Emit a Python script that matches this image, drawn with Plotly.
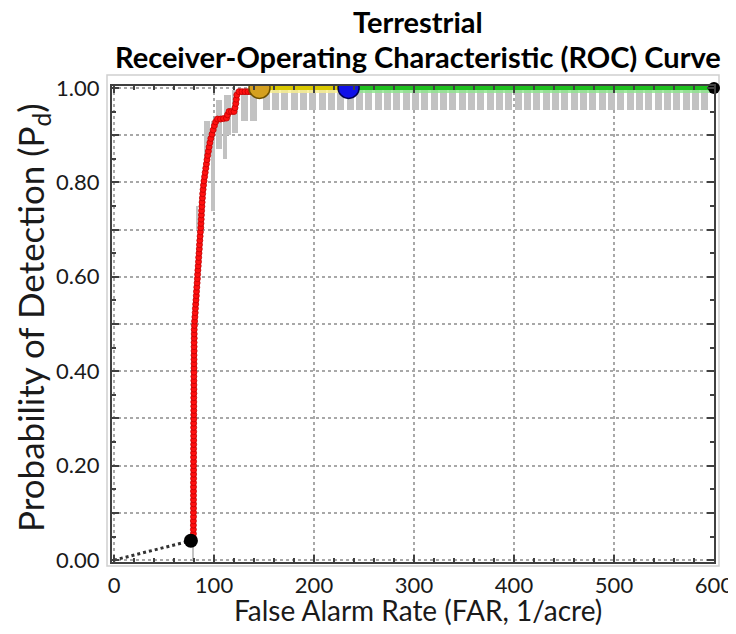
import plotly.graph_objects as go

# ---------------- data ----------------
roc_far = [
    79.4, 79.4, 79.4, 79.4, 79.4, 79.5, 79.5, 79.5, 79.5, 79.5,
    79.5, 79.5, 79.5, 79.5, 79.6, 79.6, 79.6, 79.6, 79.6, 79.6,
    79.6, 79.6, 79.7, 79.7, 79.7, 79.7, 79.7, 79.7, 79.8, 79.8,
    79.8, 79.8, 79.8, 79.8, 79.9, 79.9, 79.9, 79.9, 79.9, 80.0,
    80.0, 80.0, 80.0, 80.0, 80.1, 80.1, 80.1, 80.2, 80.2, 80.2,
    80.4, 80.6, 80.9, 81.2, 81.4, 81.7, 82.0, 82.3, 82.5, 82.8,
    83.1, 83.4, 83.6, 83.9, 84.2, 84.5, 84.7, 85.0, 85.3, 85.5,
    85.8, 86.1, 86.4,
    86.8, 87.0, 87.2, 87.4, 87.6, 87.9, 88.1, 88.4, 88.7, 89.1, 89.5, 90.0,
    90.6, 91.2, 91.8, 92.4, 93.0, 93.7, 94.4, 95.1, 95.9, 96.8,
    98.0, 99.2, 100.4, 101.6,
    103.5, 106.5, 109.5, 112.5,
    113.5, 115.0, 117.5, 120.0,
    121.0, 121.8, 122.3, 122.8,
    125.0, 128.0, 131.0, 134.0, 137.0, 140.0, 143.0,
]
roc_pd = [
    0.047, 0.056, 0.065, 0.074, 0.083, 0.092, 0.101, 0.110, 0.119, 0.128,
    0.137, 0.146, 0.155, 0.164, 0.173, 0.182, 0.191, 0.200, 0.209, 0.218,
    0.227, 0.236, 0.245, 0.254, 0.263, 0.272, 0.281, 0.290, 0.299, 0.308,
    0.317, 0.326, 0.335, 0.344, 0.353, 0.362, 0.371, 0.380, 0.389, 0.398,
    0.407, 0.416, 0.425, 0.434, 0.443, 0.452, 0.461, 0.470, 0.479, 0.488,
    0.497, 0.506, 0.515, 0.524, 0.533, 0.542, 0.551, 0.560, 0.569, 0.578,
    0.587, 0.596, 0.605, 0.614, 0.623, 0.632, 0.641, 0.650, 0.659, 0.668,
    0.677, 0.686, 0.695,
    0.704, 0.713, 0.722, 0.731, 0.740, 0.749, 0.758, 0.767, 0.776, 0.785, 0.794, 0.803,
    0.812, 0.821, 0.830, 0.839, 0.848, 0.857, 0.866, 0.875, 0.884, 0.893,
    0.902, 0.911, 0.920, 0.928,
    0.934, 0.934, 0.935, 0.936,
    0.943, 0.950, 0.950, 0.950,
    0.958, 0.967, 0.976, 0.985,
    0.992, 0.992, 0.992, 0.992, 0.992, 0.996, 1.000,
]

start_far = [0.0, 76.9]
start_pd = [0.0, 0.041]

yellow_far = [145.5, 234.6]
yellow_pd = [1.0, 1.0]
green_far = [234.6, 600.0]
green_pd = [1.0, 1.0]

gold_far, gold_pd = [145.5], [1.0]
blue_far, blue_pd = [234.6], [1.0]
end_far, end_pd = [600.0], [1.0]

# confidence bars (grey)
ci_far = [79.0, 83.0, 93.0, 99.0, 105.0, 110.5, 113.5, 121.0, 130.5, 139.5,
          152.0, 161.0, 170.5, 180.0, 189.0, 198.5, 208.0, 217.0, 226.5, 236.0,
          245.0, 254.5, 264.0, 273.0, 282.5, 292.0, 301.0, 310.5, 320.0, 329.0,
          338.5, 348.0, 357.0, 366.5, 376.0, 385.0, 394.5, 404.0, 413.0, 422.5,
          432.0, 441.0, 450.5, 460.0, 469.0, 478.5, 488.0, 497.0, 506.5, 516.0,
          525.0, 534.5, 544.0, 553.0, 562.5, 572.0, 581.0, 590.5]
ci_lo = [0.000, 0.700, 0.850, 0.740, 0.870, 0.850, 0.900, 0.905, 0.930, 0.930] + [0.953] * 48
ci_hi = [0.030, 0.750, 0.930, 0.930, 0.975, 0.930, 0.985, 0.995, 0.995, 0.995] + [0.996] * 48
ci_w = [1.5, 2.5, 6.0, 3.5, 6.0, 4.0, 6.5, 6.5, 7.0, 7.0] + [7.0] * 48

x_tick_vals = [0, 100, 200, 300, 400, 500, 600]
x_tick_text = ["0", "100", "200", "300", "400", "500", "600"]
y_tick_vals = [0.0, 0.1, 0.2, 0.3, 0.4, 0.5, 0.6, 0.7, 0.8, 0.9, 1.0]
y_tick_text = ["0.00", "", "0.20", "", "0.40", "", "0.60", "", "0.80", "", "1.00"]

FONT = "Lato"

# ---------------- figure ----------------
fig = go.Figure()

fig.add_trace(go.Bar(
    x=ci_far, y=[h - l for h, l in zip(ci_hi, ci_lo)], base=ci_lo, width=ci_w,
    marker=dict(color="#c2c2c2", line=dict(width=0)), hoverinfo="skip"))

fig.add_trace(go.Scatter(x=start_far, y=start_pd, mode="lines",
                         line=dict(color="#333333", width=3, dash="dot")))

fig.add_trace(go.Scatter(x=yellow_far, y=yellow_pd, mode="lines",
                         line=dict(color="rgba(250,240,140,0.8)", width=10)))
fig.add_trace(go.Scatter(x=yellow_far, y=yellow_pd, mode="lines",
                         line=dict(color="#d9c800", width=4)))
fig.add_trace(go.Scatter(x=green_far, y=green_pd, mode="lines",
                         line=dict(color="rgba(140,230,140,0.8)", width=10)))
fig.add_trace(go.Scatter(x=green_far, y=green_pd, mode="lines",
                         line=dict(color="#1ec01e", width=4)))

fig.add_trace(go.Scatter(x=roc_far, y=roc_pd, mode="lines+markers",
                         line=dict(color="#e00000", width=2),
                         marker=dict(size=6, color="#ff1010",
                                     line=dict(color="#c00000", width=0.8))))

fig.add_trace(go.Scatter(x=start_far[1:], y=start_pd[1:], mode="markers",
                         marker=dict(size=14, color="black")))
fig.add_trace(go.Scatter(x=gold_far, y=gold_pd, mode="markers",
                         marker=dict(size=21, color="#d4a020",
                                     line=dict(color="#6b4f00", width=1.5))))
fig.add_trace(go.Scatter(x=blue_far, y=blue_pd, mode="markers",
                         marker=dict(size=21, color="#1010e8",
                                     line=dict(color="#000050", width=1.5))))
fig.add_trace(go.Scatter(x=end_far, y=end_pd, mode="markers",
                         marker=dict(size=12, color="black"),
                         cliponaxis=False))

# the page body adds an 8px margin; work in reference-pixel coordinates
OFF = 8
W, H = 736 - OFF, 634 - 2 * OFF
PL, PR, PT, PB = 112, 714, 86, 562            # plot box in reference pixels
L, R, T, B = PL - OFF, W - (PR - OFF), PT - OFF, H - (PB - OFF)
pw, ph = W - L - R, H - T - B


def px(xp):
    return (xp - OFF - L) / pw


def py(yp):
    return (H - B - (yp - OFF)) / ph


axis_common = dict(
    showline=True, linecolor="#404040", linewidth=2, mirror="allticks",
    ticks="inside", ticklen=7, tickwidth=1.5, tickcolor="#404040",
    showgrid=True, gridcolor="#a8a8a8", gridwidth=1.5, griddash="dot",
    zeroline=False, automargin=False,
    tickfont=dict(family=FONT, size=22, color="#1a1a1a"),
)

fig.update_xaxes(
    range=[-2, 600], tickmode="array", tickvals=x_tick_vals, ticktext=x_tick_text,
    minor=dict(dtick=20, ticks="inside", ticklen=4, tickcolor="#404040",
               showgrid=False),
    ticklabelstandoff=3,
    **axis_common)
fig.update_yaxes(
    range=[-0.004, 1.004], tickmode="array", tickvals=y_tick_vals, ticktext=y_tick_text,
    minor=dict(dtick=0.05, ticks="inside", ticklen=4, tickcolor="#404040",
               showgrid=False),
    ticklabelstandoff=6,
    **axis_common)

fig.add_shape(type="rect", xref="paper", yref="paper",
              x0=px(107), x1=px(719), y0=py(566), y1=py(75),
              line=dict(color="#d0d0d0", width=1.5), layer="below")

title_font = dict(family=FONT, size=29, color="black")
fig.add_annotation(text="<b>Terrestrial</b>", xref="paper", yref="paper",
                   x=px(418), y=py(21), showarrow=False, font=title_font,
                   xanchor="center", yanchor="middle")
fig.add_annotation(text="<b>Receiver-Operating Characteristic (ROC) Curve</b>",
                   xref="paper", yref="paper", x=px(418), y=py(56),
                   showarrow=False, font=title_font,
                   xanchor="center", yanchor="middle")
fig.add_annotation(text="False Alarm Rate (FAR, 1/acre)", xref="paper", yref="paper",
                   x=px(418), y=py(610), showarrow=False,
                   font=dict(family=FONT, size=28, color="#1a1a1a"),
                   xanchor="center", yanchor="middle")
fig.add_annotation(text="Probability of Detection (P<sub>d</sub>)", xref="paper",
                   yref="paper", x=px(32), y=py(318), showarrow=False, textangle=-90,
                   font=dict(family=FONT, size=35, color="#1a1a1a"),
                   xanchor="center", yanchor="middle")

fig.update_layout(
    width=W, height=H, margin=dict(l=L, r=R, t=T, b=B),
    paper_bgcolor="white", plot_bgcolor="white", showlegend=False,
    barmode="overlay", bargap=0,
)

fig.write_html("out.html")
